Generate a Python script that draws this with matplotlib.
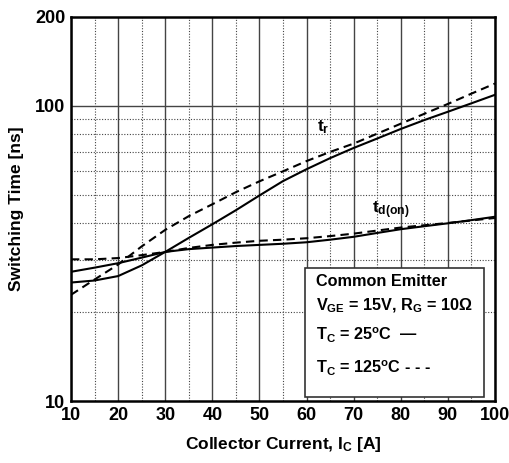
import numpy as np
import matplotlib.pyplot as plt
from matplotlib.ticker import FixedLocator, NullFormatter

plt.rcParams['font.family'] = ['Liberation Sans', 'DejaVu Sans']
plt.rcParams['font.weight'] = 'bold'
plt.rcParams['axes.labelweight'] = 'bold'
plt.rcParams['mathtext.fontset'] = 'custom'
plt.rcParams['mathtext.rm'] = 'Liberation Sans:bold'
plt.rcParams['mathtext.it'] = 'Liberation Sans:bold'
plt.rcParams['mathtext.bf'] = 'Liberation Sans:bold'

# collector current [A]
ic = [10, 15, 20, 25, 30, 35, 40, 45, 50, 55, 60, 65, 70, 75, 80, 85, 90, 95, 100]

# rise time t_r [ns]
tr_25 = [25.2, 25.6, 26.5, 28.8, 32.0, 35.7, 39.7, 44.3, 49.7, 55.6, 61.0, 66.5,
         72.0, 77.5, 83.5, 89.5, 95.5, 102, 109]
tr_125 = [22.9, 25.8, 29.0, 33.4, 38.0, 42.3, 46.4, 51.0, 55.5, 60.0, 65.0, 69.8,
          74.5, 80.5, 87.0, 94.0, 101.5, 110, 119]

# turn-on delay t_d(on) [ns]
td_25 = [27.4, 28.3, 29.3, 30.6, 32.0, 32.7, 33.1, 33.5, 33.8, 34.1, 34.5, 35.2,
         36.0, 37.1, 38.2, 39.1, 40.0, 41.0, 42.1]
td_125 = [30.2, 30.2, 30.5, 31.2, 32.0, 33.0, 33.8, 34.4, 34.9, 35.2, 35.6, 36.2,
          36.9, 37.8, 38.7, 39.4, 40.1, 40.9, 41.7]

x_ticks = [10, 20, 30, 40, 50, 60, 70, 80, 90, 100]
y_ticks = [10, 100, 200]

fig = plt.figure(figsize=(5.09, 4.63), dpi=100)
ax = fig.add_axes([0.1395, 0.1339, 0.833, 0.8294])

ax.set_yscale('log')
ax.set_xlim(10, 100)
ax.set_ylim(10, 200)

ax.set_xticks(x_ticks)
ax.set_xticklabels([str(v) for v in x_ticks])
ax.xaxis.set_minor_locator(FixedLocator([15, 25, 35, 45, 55, 65, 75, 85, 95]))
ax.set_yticks(y_ticks)
ax.set_yticklabels([str(v) for v in y_ticks])
ax.yaxis.set_minor_locator(FixedLocator([20, 30, 40, 50, 60, 70, 80, 90]))
ax.yaxis.set_minor_formatter(NullFormatter())
ax.tick_params(which='both', length=0, labelsize=13, pad=4)

# grid: solid majors, dotted minors
ax.grid(True, which='major', axis='x', color='#444444', lw=1.0, ls='-')
ax.grid(True, which='minor', axis='x', color='#444444', lw=0.8, ls=(0, (1, 1.5)))
ax.grid(True, which='minor', axis='y', color='#444444', lw=0.8, ls=(0, (1, 1.5)))
ax.axhline(100, color='#444444', lw=1.0)
ax.set_axisbelow(True)

for s in ax.spines.values():
    s.set_linewidth(1.8)

dash = (0, (4, 2.5))
ax.plot(ic, tr_25, color='black', lw=1.5)
ax.plot(ic, tr_125, color='black', lw=1.5, ls=dash)
ax.plot(ic, td_25, color='black', lw=1.5)
ax.plot(ic, td_125, color='black', lw=1.5, ls=dash)

ax.text(62.3, 82, r't$_{r}$', fontsize=12.5)
ax.text(73.8, 43.3, r't$_{d(on)}$', fontsize=12.5)

ax.set_xlabel(r'Collector Current, I$_{C}$ [A]', fontsize=12.5, fontweight='bold',
              labelpad=8)
ax.set_ylabel('Switching Time [ns]', fontsize=12.5, fontweight='bold', labelpad=8)

# info box
box = plt.Rectangle((0.553, 0.011), 0.42, 0.336, transform=ax.transAxes,
                    facecolor='white', edgecolor='#333333', lw=1.2, zorder=4)
ax.add_patch(box)
tx = 0.578
fs = 11.7
ax.text(tx, 0.30, 'Common Emitter', transform=ax.transAxes, fontsize=fs, zorder=5)
ax.text(tx, 0.237, r'V$_{GE}$ = 15V, R$_{G}$ = 10Ω', transform=ax.transAxes,
        fontsize=fs, zorder=5)
ax.text(tx, 0.158, r'T$_{C}$ = 25$^{o}$C  —', transform=ax.transAxes,
        fontsize=fs, zorder=5)
ax.text(tx, 0.072, r'T$_{C}$ = 125$^{o}$C - - -', transform=ax.transAxes,
        fontsize=fs, zorder=5)

fig.savefig('out.png', dpi=100)
